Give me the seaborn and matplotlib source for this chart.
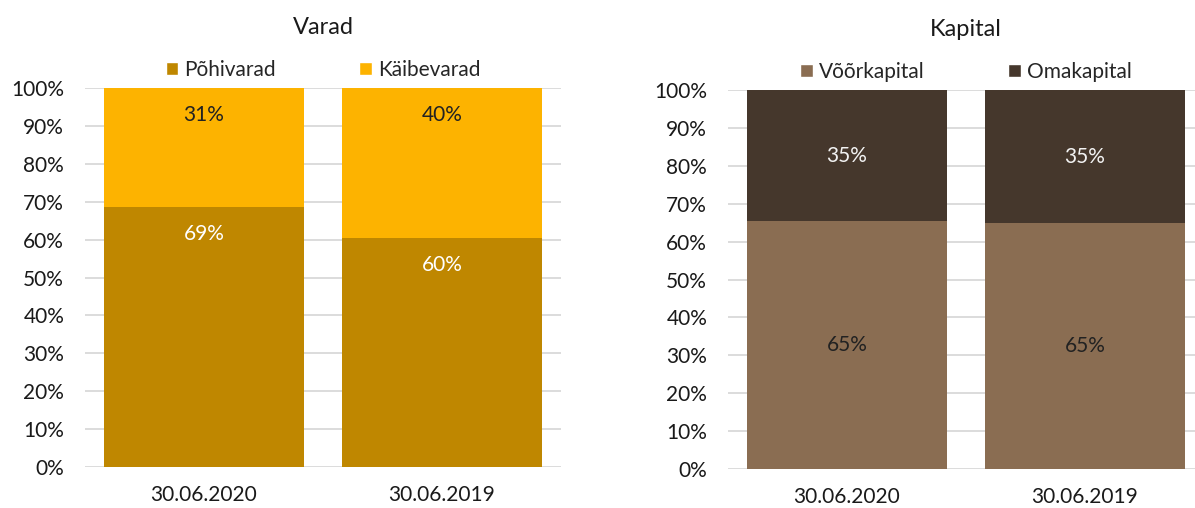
import matplotlib
matplotlib.use("Agg")
import matplotlib.pyplot as plt
import seaborn as sns
import numpy as np
from matplotlib.patches import Patch

dates = ["30.06.2020", "30.06.2019"]
pohivarad = [68.6, 60.3]
kaibevarad = [31.4, 39.7]
voorkapital = [65.4, 64.9]
omakapital = [34.6, 35.1]

sns.set_theme(style="white")
plt.rcParams['font.family'] = ['Lato', 'DejaVu Sans']

W, H = 1195, 508
fig = plt.figure(figsize=(W / 100, H / 100), dpi=100)

def add_ax(x0, x1, y0, y1):
    return fig.add_axes([x0 / W, (H - y1) / H, (x1 - x0) / W, (y1 - y0) / H])

ax1 = add_ax(85, 561, 88, 467)
ax2 = add_ax(728, 1204, 90, 469)

panels = [
    (ax1, "Varad", ("Põhivarad", pohivarad, "#BF8700"), ("Käibevarad", kaibevarad, "#FDB300"),
     "#FFFFFF", "#222222", "inside"),
    (ax2, "Kapital", ("Võõrkapital", voorkapital, "#8A6D52"), ("Omakapital", omakapital, "#45372C"),
     "#222222", "#F2F2F2", "center"),
]

for ax, title, (n1, v1, c1), (n2, v2, c2), tc1, tc2, mode in panels:
    total = [a + b for a, b in zip(v1, v2)]
    sns.barplot(x=dates, y=total, color=c2, width=0.84, saturation=1, linewidth=0, ax=ax)
    sns.barplot(x=dates, y=v1, color=c1, width=0.84, saturation=1, linewidth=0, ax=ax)
    ax.set_ylim(0, 100)
    ax.set_xlim(-0.5, 1.5)
    ax.set_yticks(np.arange(0, 101, 10))
    ax.set_yticklabels([f"{t}%" for t in range(0, 101, 10)])
    ax.yaxis.grid(True, color="#D9D9D9", linewidth=1.3)
    ax.set_axisbelow(True)
    for s in ax.spines.values():
        s.set_visible(False)
    ax.tick_params(axis="both", length=0, labelsize=15, colors="#1a1a1a")
    ax.tick_params(axis="x", pad=13)
    ax.tick_params(axis="y", pad=15)
    ax.set_xlabel("")
    ax.set_ylabel("")
    ax.set_title(title, fontsize=17, color="#1a1a1a", pad=39)
    for i in range(len(dates)):
        if mode == "inside":
            y1 = v1[i] - 7
            y2 = total[i] - 7
        else:
            y1 = v1[i] / 2
            y2 = v1[i] + v2[i] / 2
        ax.text(i, y1, f"{round(v1[i])}%", ha="center", va="center", fontsize=15, color=tc1)
        ax.text(i, y2, f"{round(v2[i])}%", ha="center", va="center", fontsize=15, color=tc2)
    handles = [Patch(facecolor=c1, label=n1), Patch(facecolor=c2, label=n2)]
    ax.legend(handles=handles, loc="lower center", bbox_to_anchor=(0.5, 1.0), ncol=2,
              frameon=False, fontsize=15, handlelength=0.6, handleheight=0.6,
              handletextpad=0.3, columnspacing=4.0, borderaxespad=0.0)

fig.savefig("out.png", dpi=100)
